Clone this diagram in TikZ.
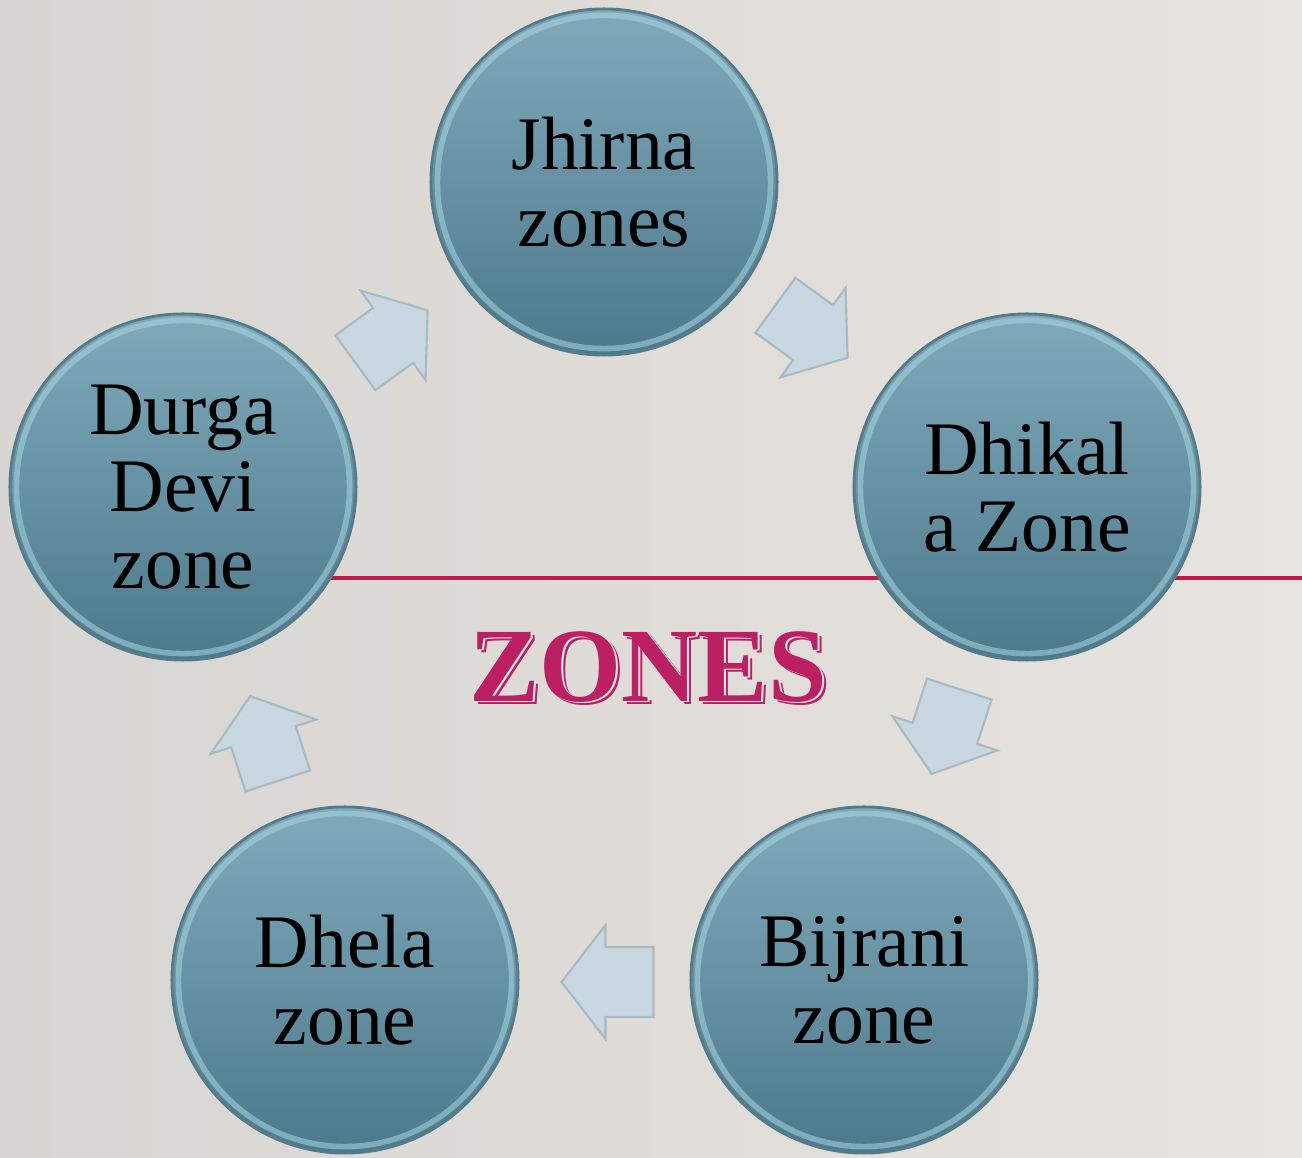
\documentclass[tikz,border=0pt]{standalone}
\usepackage{fontspec}
\setmainfont{Liberation Serif}
\usetikzlibrary{calc}
\definecolor{bgA}{HTML}{D8D6D2}
\definecolor{bgB}{HTML}{E7E3DF}
\definecolor{ctop}{HTML}{80AABA}
\definecolor{cbot}{HTML}{4C798B}
\definecolor{crim}{HTML}{A9D7E1}
\definecolor{cedge}{HTML}{557B8A}
\definecolor{zred}{HTML}{BC1F62}
\definecolor{zgap}{HTML}{F2EEEA}
\definecolor{lred}{HTML}{BF1A4C}
\definecolor{afill}{HTML}{C9D8E0}
\definecolor{aedge}{HTML}{A9BAC2}
\begin{document}
\begin{tikzpicture}[x=0.01cm,y=-0.01cm,
 zone/.style={circle, minimum size=3.46cm, inner sep=0pt, top color=ctop, bottom color=cbot,
   draw=cedge, line width=0.8pt, align=center, font=\fontsize{21.5}{21.9}\selectfont, text=black},
 rim/.style={draw=crim, line width=1.6pt, opacity=0.55},
 blockarrow/.style={fill=afill, draw=aedge, line width=0.6pt, line join=miter},
 titlefont/.style={font=\bfseries\fontsize{30}{30}\selectfont, inner sep=0pt}
]
\fill[left color=bgA, right color=bgB] (0,0) rectangle (1302,1158);
\useasboundingbox (0,0) rectangle (1302,1158);
\draw[lred, line width=1.4pt] (330,578) -- (1302,578);

\node[zone] (jhi) at (604,182) {Jhirna\\zones};
\node[zone] (dhi) at (1027,487) {Dhikal\\a Zone};
\node[zone] (dur) at (183,487) {Durga\\Devi\\zone};
\node[zone] (dhe) at (345,980) {Dhela\\zone};
\node[zone] (bij) at (864,980) {Bijrani\\zone};
\foreach \n in {jhi,dhi,dur,dhe,bij}{
  \draw[rim] (\n.center) circle[radius=1.665cm];
}

\coordinate (m1) at ($(dur)!0.5!(jhi)+(-2,2)$);
\coordinate (m2) at ($(jhi)!0.5!(dhi)+(-4,-3)$);
\coordinate (m3) at ($(dhi)!0.5!(bij)+(0,-2)$);
\coordinate (m4) at ($(bij)!0.5!(dhe)+(3,2)$);
\coordinate (m5) at ($(dhe)!0.5!(dur)+(0,5)$);

\foreach \m/\a/\s in {m1/36/0.97, m2/-36/0.97, m3/-108/0.97, m4/180/1, m5/108/0.97}{
  \draw[blockarrow, shift={(\m)}, rotate=\a, scale=\s]
    (-46,-35) -- (2,-35) -- (2,-57) -- (46,0) -- (2,57) -- (2,35) -- (-46,35) -- cycle;
}

\node[titlefont, text=zred] (tshadow) at (652,670) {ZONES};
\node[titlefont, text=zgap] (tgap) at (650,668.5) {ZONES};
\node[titlefont, text=zred] (title) at (648,667) {ZONES};
\end{tikzpicture}
\end{document}
